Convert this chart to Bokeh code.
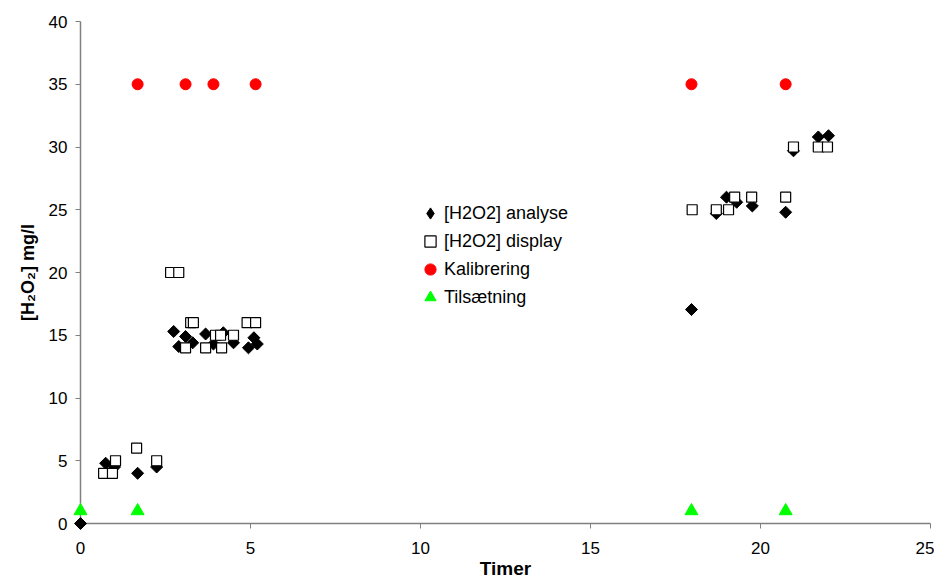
import numpy as np
from bokeh.plotting import figure
from bokeh.models import Range1d, FixedTicker, Legend, LegendItem, Title
from bokeh.embed import file_html
from bokeh.resources import INLINE

# Data
analyse_x = [0, 0.74, 1.0, 1.68, 2.24, 2.74, 2.89, 3.09, 3.3, 3.68, 3.91, 4.2, 4.5, 4.94, 5.1, 5.2,
             17.97, 18.7, 19.0, 19.3, 19.76, 20.74, 20.97, 21.7, 22.0]
analyse_y = [0, 4.8, 4.5, 4.0, 4.5, 15.3, 14.1, 14.9, 14.4, 15.1, 14.3, 15.2, 14.4, 14.0, 14.8, 14.3,
             17.05, 24.7, 26.0, 25.6, 25.3, 24.8, 29.7, 30.8, 30.9]

display_x = [0.68, 0.94, 1.03, 1.65, 2.24, 2.65, 2.89, 3.09, 3.24, 3.32, 3.68, 3.97, 4.12, 4.15, 4.5,
             4.9, 5.15, 17.99, 18.7, 19.06, 19.24, 19.74, 20.74, 20.97, 21.7, 21.97]
display_y = [4, 4, 5, 6, 5, 20, 20, 14, 16, 16, 14, 15, 15, 14, 15, 16, 16,
             25, 25, 25, 26, 26, 26, 30, 30, 30]

kal_x = [1.68, 3.09, 3.91, 5.15, 17.97, 20.74]
kal_y = [35, 35, 35, 35, 35, 35]

til_x = [0, 1.68, 17.97, 20.74]
til_y = [1, 1, 1, 1]

x_ticks = [0, 5, 10, 15, 20, 25]
y_ticks = [0, 5, 10, 15, 20, 25, 30, 35, 40]

labels = ["[H2O2] analyse", "[H2O2] display", "Kalibrering", "Tilsætning"]
x_title = "Timer"
y_title = "[H\u2082O\u2082] mg/l"

p = figure(width=934, height=581, output_backend="svg", toolbar_location=None,
           x_range=Range1d(0, 25), y_range=Range1d(0, 40),
           min_border_left=80, min_border_top=21, min_border_right=4, min_border_bottom=58)
p.outline_line_color = None
p.grid.visible = False

for ax in (p.xaxis[0], p.yaxis[0]):
    ax.axis_line_color = "#808080"
    ax.axis_line_width = 1.5
    ax.major_tick_line_color = "#808080"
    ax.major_tick_line_width = 1
    ax.major_tick_out = 5
    ax.major_tick_in = 0
    ax.minor_tick_line_color = None
    ax.major_label_text_font = "Liberation Sans"
    ax.major_label_text_font_size = "17px"
    ax.major_label_text_color = "black"
    ax.axis_label_text_font = "Liberation Sans"
    ax.axis_label_text_font_style = "bold"
    ax.axis_label_text_color = "black"

p.xaxis.ticker = FixedTicker(ticks=x_ticks)
p.yaxis.ticker = FixedTicker(ticks=y_ticks)
p.xaxis.axis_label = x_title
p.xaxis.axis_label_text_font_size = "19px"
p.xaxis.major_label_standoff = 13
p.xaxis.axis_label_standoff = 1
p.yaxis.major_label_standoff = 8

# y title as a side title so it can be shifted like the reference
p.add_layout(Title(text=y_title, align="center", offset=33, standoff=16,
                   text_font="Liberation Sans", text_font_style="bold",
                   text_font_size="18px", text_color="black"), "left")

r1 = p.scatter(analyse_x, analyse_y, marker="square", angle=np.pi / 4, size=8.5,
               fill_color="black", line_color="black", level="overlay")
r2 = p.scatter(display_x, display_y, marker="square", size=10,
               fill_color="white", line_color="black", line_width=1.2, level="overlay")
r3 = p.scatter(kal_x, kal_y, marker="circle", size=11,
               fill_color="#FF0000", line_color="#FF0000", level="overlay")
r4 = p.scatter(til_x, til_y, marker="triangle", size=13,
               fill_color="#00FF00", line_color="#00FF00", level="overlay")

# legend proxy for the diamond (legend does not rotate markers)
proxy = p.scatter([np.nan], [np.nan], marker="diamond", fill_color="black", line_color="black")

legend = Legend(items=[
    LegendItem(label=labels[0], renderers=[proxy]),
    LegendItem(label=labels[1], renderers=[r2]),
    LegendItem(label=labels[2], renderers=[r3]),
    LegendItem(label=labels[3], renderers=[r4]),
], location=(336, 212), orientation="vertical")
legend.border_line_color = None
legend.background_fill_alpha = 0
legend.padding = 0
legend.margin = 0
legend.spacing = 0
legend.glyph_width = 28
legend.glyph_height = 28
legend.label_height = 28
legend.label_standoff = 0
legend.label_text_font = "Liberation Sans"
legend.label_text_font_size = "18px"
legend.label_text_color = "black"
p.add_layout(legend, "center")

open("out.html", "w").write(file_html(p, INLINE))
